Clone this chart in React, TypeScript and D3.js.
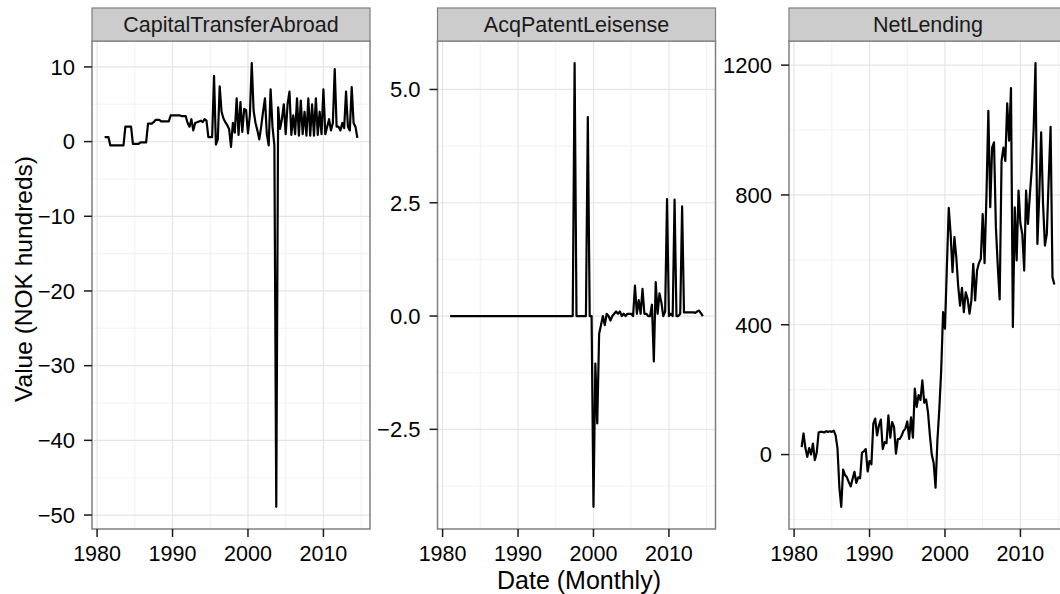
import React from 'react';
import * as d3 from 'd3';

// Quarterly observations, first at 1981.0
const startYear = 1981;

const panelTitles = ['CapitalTransferAbroad', 'AcqPatentLeisense', 'NetLending'];

const capitalTransferAbroad = [
  0.6, 0.6, 0.6, -0.5,
  -0.5, -0.5, -0.5, -0.5,
  -0.5, -0.5, -0.5, 2.0,
  2.0, 2.0, 2.0, -0.3,
  -0.3, -0.3, -0.3, -0.1,
  -0.1, -0.1, -0.1, 2.4,
  2.4, 2.4, 2.6, 2.9,
  2.9, 2.9, 2.7, 2.7,
  2.7, 2.7, 2.7, 3.5,
  3.5, 3.5, 3.5, 3.5,
  3.5, 3.4, 3.4, 3.4,
  2.5, 2.0, 3.0, 1.5,
  2.5, 2.6, 2.7, 2.8,
  2.6, 3.0, 2.8, 0.6,
  0.6, 0.6, 8.8, -0.4,
  0.3, 7.4, 4.0, 3.1,
  2.6, 2.2, 1.7, -0.7,
  2.5, 1.2, 5.8, 0.9,
  5.3, 1.3, 4.4, 4.2,
  1.1, 3.5, 10.5, 4.1,
  2.5, 1.5, 0.3, 2.0,
  4.0, 5.8, 1.0, -0.5,
  7.0, 2.0, -0.5, -48.9,
  4.6, 1.7, 3.0, 5.0,
  1.0, 5.0, 6.7, 0.9,
  3.5, 1.0, 5.8, 0.8,
  5.5, 1.0, 4.0, 0.8,
  5.8, 0.8, 5.0, 0.8,
  5.8, 0.9, 4.0, 1.0,
  7.0, 1.0, 2.0, 3.0,
  1.5, 2.5, 9.7, 2.0,
  2.0, 1.5, 2.5, 1.8,
  6.7, 2.0, 1.5, 7.3,
  2.5, 2.0, 0.5,
];

const acqPatentLeisense = [
  0, 0, 0, 0, 0, 0, 0, 0, 0, 0, 0, 0, 0, 0, 0, 0,
  0, 0, 0, 0, 0, 0, 0, 0, 0, 0, 0, 0, 0, 0, 0, 0,
  0, 0, 0, 0, 0, 0, 0, 0, 0, 0, 0, 0, 0, 0, 0, 0,
  0, 0, 0, 0, 0, 0, 0, 0, 0, 0, 0, 0, 0, 0, 0, 0,
  0, 0, 5.58, 0,
  0, 0, 0, 0,
  0, 4.39, 0, 0,
  -4.21, -1.05, -2.37, -0.39,
  -0.2, 0.0, -0.2, 0.05,
  0.0, -0.1, 0.0, 0.05,
  0.1, 0.05, 0.1, 0.0,
  0.05, 0.0, 0.05, 0.05,
  0.05, 0.0, 0.67, 0.05,
  0.35, 0.05, 0.6, 0.05,
  0.05, 0.0, 0.0, 0.25,
  -1.0, 0.75, 0.05, 0.5,
  0.3, 0.0, 0.1, 2.58,
  0.0, 0.05, 0.0, 2.57,
  0.0, 0.0, 0.05, 2.42,
  0.08, 0.08, 0.08, 0.08,
  0.08, 0.08, 0.07, 0.1,
  0.12, 0.06, 0.0,
];

const netLending = [
  23, 65, 20, -7,
  20, 0, 34, -17,
  6, 68, 70, 70,
  68, 72, 70, 72,
  70, 74, 60, 20,
  -100, -161, -46, -63,
  -70, -85, -98, -75,
  -53, -87, -70, -73,
  6, 10, 17, -52,
  -20, -30, 95, 111,
  59, 90, 108, 17,
  38, 35, 121, 52,
  100, 85, 3, 48,
  48, 58, 73, 80,
  102, 48, 115, 52,
  203, 147, 183, 168,
  229, 160, 170, 130,
  60, 0, -26, -102,
  45, 140, 260, 439,
  388, 577, 760, 680,
  562, 670, 608, 520,
  459, 514, 439, 500,
  480, 434, 475, 588,
  475, 567, 590, 603,
  741, 590, 800, 1059,
  762, 946, 962, 700,
  580, 478, 905, 946,
  905, 1082, 967, 1129,
  393, 762, 598, 813,
  711, 680, 567, 813,
  711, 800, 878, 1000,
  1206, 649, 800, 993,
  772, 644, 680, 850,
  1010, 546, 524,
];

const xTicks = [1980, 1990, 2000, 2010];
const xMinorTicks = [1975, 1985, 1995, 2005, 2015];
const capitalTicks = [10, 0, -10, -20, -30, -40, -50];
const patentTicks = [5, 2.5, 0, -2.5];
const netTicks = [0, 400, 800, 1200];

const xLabel = 'Date (Monthly)';
const yLabel = 'Value (NOK hundreds)';

const FONT = '"Liberation Sans", Arial, Helvetica, sans-serif';

const W = 1060;
const H = 594;
const panelLefts = [92, 437.5, 789];
const panelW = 278;
const stripTop = 8;
const panelTop = 41;
const panelBottom = 529;

type Pt = { x: number; y: number };

function toPoints(values: number[]): Pt[] {
  return values.map((v, i) => ({ x: startYear + i / 4, y: v }));
}

function expand(ext: [number, number]): [number, number] {
  const r = ext[1] - ext[0];
  return [ext[0] - r * 0.05, ext[1] + r * 0.05];
}

function minorOf(ticks: number[], dom: [number, number]): number[] {
  const s = [...ticks].sort((a, b) => a - b);
  const step = s[1] - s[0];
  const out: number[] = [];
  for (let v = s[0] - step / 2; v <= s[s.length - 1] + step / 2 + 1e-9; v += step) {
    if (v >= dom[0] && v <= dom[1]) out.push(v);
  }
  return out;
}

function Panel(props: {
  left: number;
  title: string;
  values: number[];
  ticks: number[];
  fmt: (v: number) => string;
}) {
  const { left, title, values, ticks, fmt } = props;
  const pts = toPoints(values);
  const xDom = expand(d3.extent(pts, (d) => d.x) as [number, number]);
  const yDom = expand(d3.extent(pts, (d) => d.y) as [number, number]);
  const x = d3.scaleLinear().domain(xDom).range([left, left + panelW]);
  const y = d3.scaleLinear().domain(yDom).range([panelBottom, panelTop]);
  const line = d3
    .line<Pt>()
    .x((d) => x(d.x))
    .y((d) => y(d.y));
  const yMinor = minorOf(ticks, yDom);
  const xMinor = xMinorTicks.filter((v) => v >= xDom[0] && v <= xDom[1]);
  const clipId = 'clip-' + title;
  return (
    <g>
      <defs>
        <clipPath id={clipId}>
          <rect x={left} y={panelTop} width={panelW} height={panelBottom - panelTop} />
        </clipPath>
      </defs>
      <rect x={left} y={panelTop} width={panelW} height={panelBottom - panelTop} fill="#ffffff" />
      {xMinor.map((v) => (
        <line key={'xm' + v} x1={x(v)} x2={x(v)} y1={panelTop} y2={panelBottom} stroke="#f3f3f3" strokeWidth={1.1} />
      ))}
      {yMinor.map((v) => (
        <line key={'ym' + v} x1={left} x2={left + panelW} y1={y(v)} y2={y(v)} stroke="#f3f3f3" strokeWidth={1.1} />
      ))}
      {xTicks.map((v) => (
        <line key={'xg' + v} x1={x(v)} x2={x(v)} y1={panelTop} y2={panelBottom} stroke="#e5e5e5" strokeWidth={1.2} />
      ))}
      {ticks.map((v) => (
        <line key={'yg' + v} x1={left} x2={left + panelW} y1={y(v)} y2={y(v)} stroke="#e5e5e5" strokeWidth={1.2} />
      ))}
      <path d={line(pts) || ''} fill="none" stroke="#000" strokeWidth={2.2} strokeLinejoin="round" clipPath={`url(#${clipId})`} />
      <rect x={left} y={panelTop} width={panelW} height={panelBottom - panelTop} fill="none" stroke="#7f7f7f" strokeWidth={1.5} />
      {/* strip */}
      <rect x={left} y={stripTop} width={panelW} height={panelTop - stripTop} fill="#cccccc" stroke="#7f7f7f" strokeWidth={1.2} />
      <text x={left + panelW / 2} y={32} textAnchor="middle" fontSize={21.5} fill="#1a1a1a" fontFamily={FONT}>
        {title}
      </text>
      {/* y axis */}
      {ticks.map((v) => (
        <g key={'yt' + v}>
          <line x1={left - 8} x2={left} y1={y(v)} y2={y(v)} stroke="#1a1a1a" strokeWidth={1.5} />
          <text x={left - 17} y={y(v) + 7.8} textAnchor="end" fontSize={22} fill="#000" fontFamily={FONT}>
            {fmt(v)}
          </text>
        </g>
      ))}
      {/* x axis */}
      {xTicks.map((v) => (
        <g key={'xt' + v}>
          <line x1={x(v)} x2={x(v)} y1={panelBottom} y2={panelBottom + 8} stroke="#1a1a1a" strokeWidth={1.5} />
          <text x={x(v)} y={561} textAnchor="middle" fontSize={21.5} fill="#000" fontFamily={FONT}>
            {String(v)}
          </text>
        </g>
      ))}
    </g>
  );
}

export default function App() {
  const intFmt = d3.format('d');
  const oneDec = d3.format('.1f');
  return (
    <svg
      width={W}
      height={H}
      viewBox={`0 0 ${W} ${H}`}
      style={{ position: 'absolute', left: 0, top: 0, background: '#fff' }}
    >
      <rect x={0} y={0} width={W} height={H} fill="#ffffff" />
      <Panel left={panelLefts[0]} title={panelTitles[0]} values={capitalTransferAbroad} ticks={capitalTicks} fmt={intFmt} />
      <Panel left={panelLefts[1]} title={panelTitles[1]} values={acqPatentLeisense} ticks={patentTicks} fmt={oneDec} />
      <Panel left={panelLefts[2]} title={panelTitles[2]} values={netLending} ticks={netTicks} fmt={intFmt} />
      <text x={579} y={589} textAnchor="middle" fontSize={25} fill="#000" fontFamily={FONT}>
        {xLabel}
      </text>
      <text
        transform="translate(31.5,279) rotate(-90)"
        textAnchor="middle"
        fontSize={24.5}
        fill="#000"
        fontFamily={FONT}
      >
        {yLabel}
      </text>
    </svg>
  );
}
